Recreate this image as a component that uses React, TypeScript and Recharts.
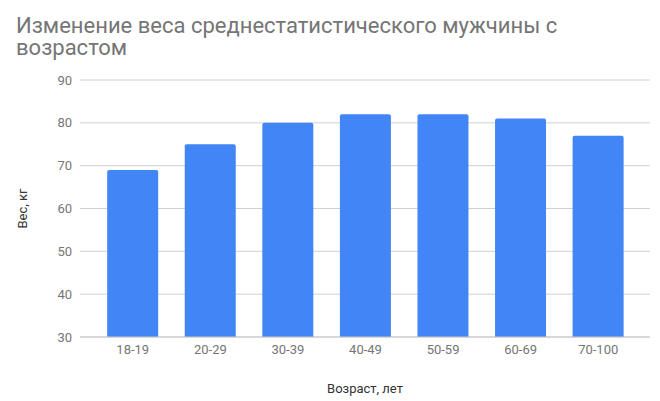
import { BarChart, Bar, XAxis, YAxis, CartesianGrid } from "recharts";

const ageGroups = ["18-19", "20-29", "30-39", "40-49", "50-59", "60-69", "70-100"];
const weights = [69, 75, 80, 82, 82, 81, 77];
const weightTicks = [30, 40, 50, 60, 70, 80, 90];

const data = ageGroups.map((age, i) => ({ age, weight: weights[i] }));

const font = "Roboto, 'Noto Sans', sans-serif";
const tickStyle = { fill: "#757575", fontSize: 13, fontFamily: font };

export default function App() {
  return (
    <div
      style={{
        position: "absolute",
        left: 0,
        top: 0,
        width: 660,
        height: 401,
        background: "#fff",
        fontFamily: font,
      }}
    >
      <div
        style={{
          position: "absolute",
          left: 16,
          top: 15,
          fontSize: 22,
          lineHeight: "22px",
          color: "#757575",
        }}
      >
        <div>Изменение веса среднестатистического мужчины с</div>
        <div>возрастом</div>
      </div>
      <BarChart
        width={660}
        height={401}
        data={data}
        margin={{ top: 80, right: 10, bottom: 0, left: 0 }}
        barCategoryGap="17%"
      >
        <CartesianGrid vertical={false} stroke="#d0d0d0" />
        <XAxis
          dataKey="age"
          height={64}
          padding={{ left: 14, right: 13 }}
          axisLine={{ stroke: "#c8c8c8" }}
          tickLine={false}
          tick={tickStyle}
          label={{
            value: "Возраст, лет",
            position: "insideBottom",
            offset: 8,
            fill: "#333",
            fontSize: 13,
            fontFamily: font,
          }}
        />
        <YAxis
          width={80}
          domain={[30, 90]}
          ticks={weightTicks}
          axisLine={false}
          tickLine={false}
          tick={tickStyle}
          label={{
            value: "Вес, кг",
            angle: -90,
            position: "insideLeft",
            offset: 22,
            textAnchor: "middle",
            fill: "#333",
            fontSize: 13,
            fontFamily: font,
          }}
        />
        <Bar
          dataKey="weight"
          fill="#4285F4"
          radius={[2, 2, 0, 0]}
          isAnimationActive={false}
        />
      </BarChart>
    </div>
  );
}
